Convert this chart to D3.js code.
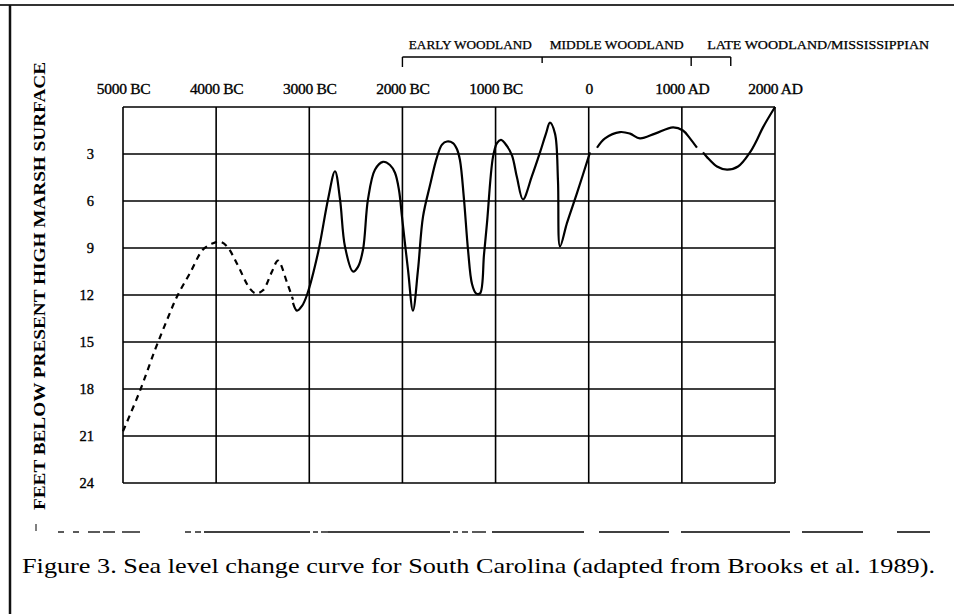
<!DOCTYPE html>
<html>
<head>
<meta charset="utf-8">
<script src="https://cdn.jsdelivr.net/npm/d3@7"></script>
<style>
  html, body { margin: 0; padding: 0; background: #fff; }
  svg { display: block; }
  text { font-family: "Liberation Serif", "DejaVu Serif", serif; fill: #000; }
</style>
</head>
<body>
<svg id="chart" width="954" height="614"></svg>
<script>
// ---------- data ----------
const xTickYears  = [-5000, -4000, -3000, -2000, -1000, 0, 1000, 2000];
const xTickLabels = ["5000 BC", "4000 BC", "3000 BC", "2000 BC", "1000 BC", "0", "1000 AD", "2000 AD"];
const yTicks      = [3, 6, 9, 12, 15, 18, 21, 24];

const periodNames      = ["EARLY WOODLAND", "MIDDLE WOODLAND", "LATE WOODLAND/MISSISSIPPIAN"];
const periodBoundaries = [-2000, -500, 1100, 1525];

// inferred (dashed) part of the curve
const inferredYears = [-5000, -4817, -4656, -4528, -4420, -4281, -4141, -4034, -3959, -3883, -3776, -3637, -3572, -3497, -3400, -3336, -3239, -3175];
const inferredDepth = [20.7, 18.1, 15.5, 13.6, 12.1, 10.6, 9.1, 8.7, 8.6, 8.9, 10.0, 11.6, 11.9, 11.7, 10.5, 9.8, 11.2, 12.3];

// documented (solid) parts of the curve
const solidAYears = [-3175, -3132, -3078, -3025, -2906, -2799, -2724, -2670, -2617, -2531, -2477, -2423, -2370, -2295, -2209, -2134, -2080, -2037, -2005, -1940, -1887, -1833, -1779, -1704, -1629, -1575, -1522, -1457, -1414, -1382, -1339, -1296, -1253, -1210, -1167, -1124, -1092, -1028, -985, -942, -877, -823, -770, -706, -609, -523, -459, -416, -362, -330, -308, -233, -126, 14];
const solidADepth = [12.5, 13.0, 12.7, 12.0, 9.3, 5.9, 4.1, 5.9, 8.9, 10.5, 10.2, 9.1, 5.9, 4.0, 3.5, 3.7, 4.2, 5.3, 7.0, 10.4, 13.0, 10.4, 7.0, 5.0, 3.2, 2.4, 2.2, 2.3, 2.7, 3.4, 5.9, 9.1, 11.3, 11.9, 11.9, 9.4, 7.4, 3.2, 2.3, 2.1, 2.5, 3.1, 4.5, 5.9, 4.4, 2.9, 1.7, 1.0, 1.7, 4.7, 8.9, 7.4, 5.5, 2.9];

const solidBYears = [89, 175, 336, 443, 550, 712, 905, 1012, 1087, 1162];
const solidBDepth = [2.6, 2.0, 1.6, 1.7, 2.0, 1.7, 1.3, 1.5, 2.0, 2.6];

const solidCYears = [1227, 1270, 1377, 1485, 1603, 1731, 1806, 1871, 2000];
const solidCDepth = [2.9, 3.2, 3.8, 4.0, 3.8, 2.9, 2.1, 1.3, 0.0];

const yTitle  = "FEET BELOW PRESENT HIGH MARSH SURFACE";
const caption = "Figure 3. Sea level change curve for South Carolina (adapted from Brooks et al. 1989).";

// ---------- drawing ----------
const svg = d3.select("#chart");
const x = d3.scaleLinear().domain([-5000, 2000]).range([123, 775]);
const y = d3.scaleLinear().domain([0, 24]).range([107, 483]);

// page frame (scan border)
svg.append("line").attr("x1", 0).attr("x2", 954).attr("y1", 5).attr("y2", 5)
  .attr("stroke", "#333").attr("stroke-width", 2);
svg.append("line").attr("x1", 10).attr("x2", 10).attr("y1", 5).attr("y2", 614)
  .attr("stroke", "#111").attr("stroke-width", 2.5);

// grid
const grid = svg.append("g").attr("stroke", "#000").attr("stroke-width", 1.6);
grid.selectAll("line.v").data(xTickYears).join("line")
  .attr("class", "v")
  .attr("x1", d => x(d)).attr("x2", d => x(d))
  .attr("y1", y(0)).attr("y2", y(24));
grid.selectAll("line.h").data([0].concat(yTicks)).join("line")
  .attr("class", "h")
  .attr("x1", x(-5000)).attr("x2", x(2000))
  .attr("y1", d => y(d)).attr("y2", d => y(d));

// x axis labels (top)
const xAxis = d3.axisTop(x).tickValues(xTickYears)
  .tickFormat((d, i) => xTickLabels[i]).tickSize(0).tickPadding(13);
svg.append("g").attr("transform", `translate(0,${y(0)})`).call(xAxis)
  .call(g => g.select(".domain").remove())
  .selectAll("text").attr("font-size", 15.5).attr("font-family", "Liberation Serif")
  .attr("letter-spacing", -0.3).attr("fill", "#000").attr("stroke", "#000").attr("stroke-width", 0.35);

// y axis labels
const yAxis = d3.axisLeft(y).tickValues(yTicks).tickSize(0).tickPadding(29);
svg.append("g").attr("transform", `translate(${x(-5000)},0)`).call(yAxis)
  .call(g => g.select(".domain").remove())
  .selectAll("text").attr("font-size", 14.5).attr("font-family", "Liberation Serif")
  .attr("fill", "#000").attr("stroke", "#000").attr("stroke-width", 0.35);

// y title
svg.append("text")
  .attr("transform", "translate(45,286) rotate(-90)")
  .attr("text-anchor", "middle")
  .attr("font-size", 16).attr("font-weight", "bold")
  .attr("textLength", 448).attr("lengthAdjust", "spacingAndGlyphs")
  .text(yTitle);

// period bracket
const by = 57;
const br = svg.append("g").attr("stroke", "#000").attr("stroke-width", 1.4).attr("fill", "none");
br.append("line").attr("x1", x(periodBoundaries[0])).attr("x2", x(periodBoundaries[3]))
  .attr("y1", by).attr("y2", by);
const tickLens = [10, 6, 9, 9];
periodBoundaries.forEach((b, i) => {
  br.append("line").attr("x1", x(b)).attr("x2", x(b)).attr("y1", by).attr("y2", by + tickLens[i]);
});
const pl = svg.append("g").attr("font-size", 11.5).attr("stroke", "#000").attr("stroke-width", 0.25);
pl.append("text").attr("x", (x(periodBoundaries[0]) + x(periodBoundaries[1])) / 2 - 2).attr("y", 49)
  .attr("text-anchor", "middle").attr("textLength", 123).attr("lengthAdjust", "spacingAndGlyphs").text(periodNames[0]);
pl.append("text").attr("x", (x(periodBoundaries[1]) + x(periodBoundaries[2])) / 2).attr("y", 49)
  .attr("text-anchor", "middle").attr("textLength", 134).attr("lengthAdjust", "spacingAndGlyphs").text(periodNames[1]);
pl.append("text").attr("x", x(periodBoundaries[2]) + 16).attr("y", 49)
  .attr("text-anchor", "start").attr("textLength", 222).attr("lengthAdjust", "spacingAndGlyphs").text(periodNames[2]);

// curve
const line = d3.line().x(d => x(d[0])).y(d => y(d[1])).curve(d3.curveCatmullRom.alpha(0.5));
const zip = (a, b) => a.map((v, i) => [v, b[i]]);
svg.append("path").datum(zip(inferredYears, inferredDepth)).attr("d", line)
  .attr("fill", "none").attr("stroke", "#000").attr("stroke-width", 2.2).attr("stroke-dasharray", "6,5");
[[solidAYears, solidADepth], [solidBYears, solidBDepth], [solidCYears, solidCDepth]].forEach(([a, b]) => {
  svg.append("path").datum(zip(a, b)).attr("d", line)
    .attr("fill", "none").attr("stroke", "#000").attr("stroke-width", 2.2);
});

// broken rule below the chart (scan artifact)
const ruleSegs = [[58,64],[73,79],[88,100],[103,115],[122,140],[185,191],[195,201],[204,310],[313,318],[321,328],[328,450],[453,458],[462,468],[472,486],[492,584],[599,669],[681,790],[802,863],[897,930]];
svg.append("g").attr("stroke", "#000").attr("stroke-width", 1.3)
  .selectAll("line").data(ruleSegs).join("line")
  .attr("x1", d => d[0]).attr("x2", d => d[1]).attr("y1", 532).attr("y2", 532);
svg.append("line").attr("x1", 36).attr("x2", 36).attr("y1", 524).attr("y2", 531)
  .attr("stroke", "#000").attr("stroke-width", 1);

// caption
svg.append("text").attr("x", 22).attr("y", 573).attr("font-size", 21)
  .attr("textLength", 913).attr("lengthAdjust", "spacingAndGlyphs").text(caption);
</script>
</body>
</html>
